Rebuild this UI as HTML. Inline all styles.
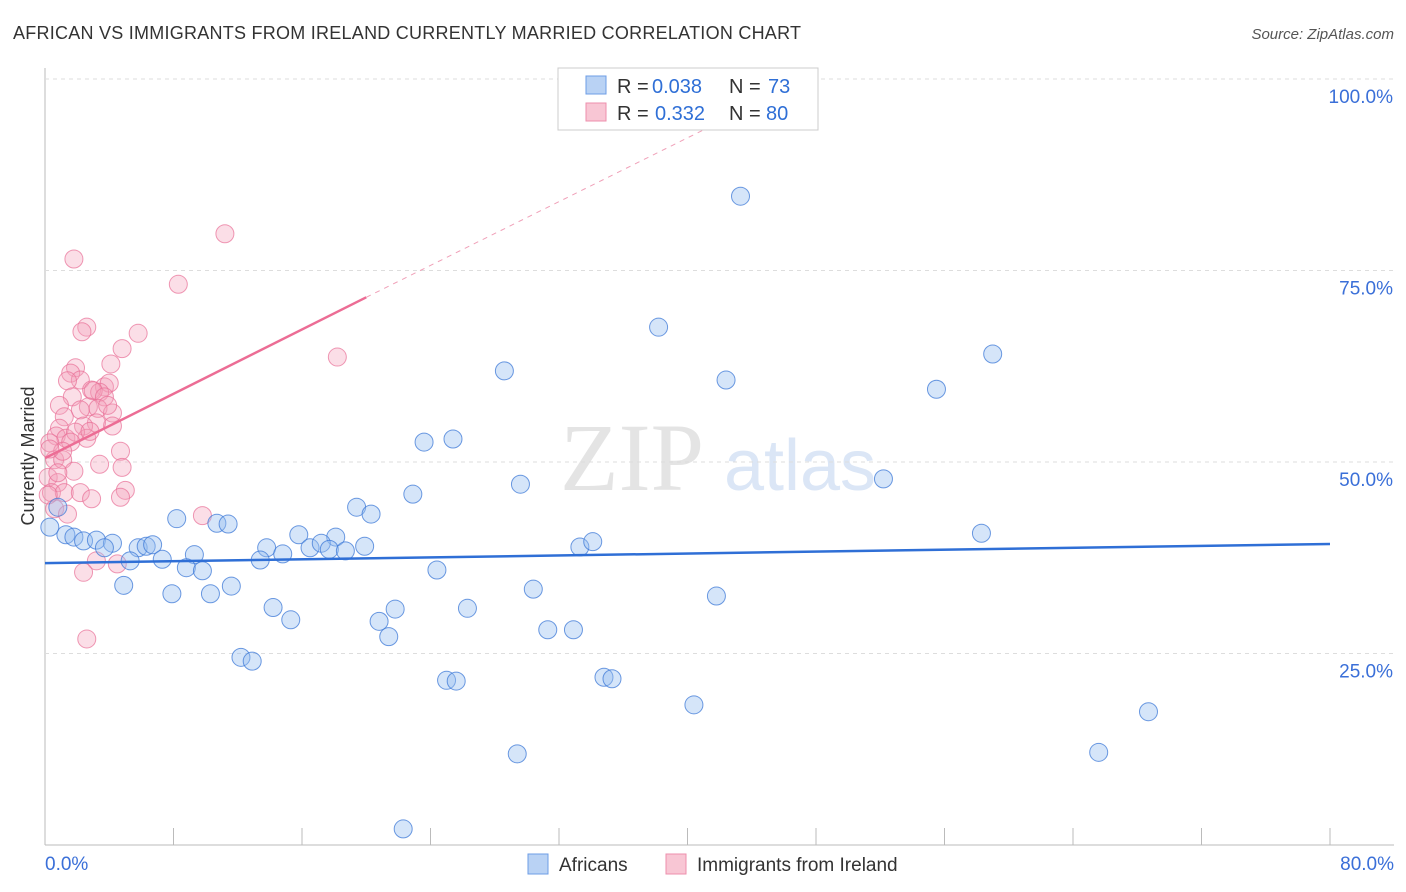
<!DOCTYPE html>
<html><head><meta charset="utf-8"><style>
body{margin:0;background:#fff;font-family:"Liberation Sans",sans-serif;}
svg{display:block}
</style></head><body>
<svg id="c" width="1406" height="892">
<text x="13" y="39" font-size="18" fill="#333" textLength="788">AFRICAN VS IMMIGRANTS FROM IRELAND CURRENTLY MARRIED CORRELATION CHART</text>
<text x="1394" y="39" font-size="15" fill="#555" text-anchor="end" font-style="italic">Source: ZipAtlas.com</text>
<text x="34" y="456" font-size="18" fill="#333" text-anchor="middle" transform="rotate(-90 34 456)">Currently Married</text>
<text x="632" y="490" font-size="96" fill="#e4e4e4" font-family="Liberation Serif,serif" text-anchor="middle">ZIP</text>
<text x="800" y="490" font-size="72" fill="#dbe6f6" text-anchor="middle">atlas</text>
<g id="grid"></g>
<g id="pts"></g>
<g id="lines"></g>
<rect x="558" y="68" width="260" height="62" fill="#fff" stroke="#ccc"/>
<rect x="586" y="76" width="20" height="18" fill="#b9d2f4" stroke="#6d9de6"/>
<rect x="586" y="103" width="20" height="18" fill="#f8c6d4" stroke="#ee8fac"/>
<g font-size="20" fill="#333">
<text x="617" y="93">R =</text><text x="652" y="93" fill="#2f6fd6">0.038</text><text x="729" y="93">N =</text><text x="768" y="93" fill="#2f6fd6">73</text></g>
<g font-size="20" fill="#333">
<text x="617" y="120">R =</text><text x="655" y="120" fill="#2f6fd6">0.332</text><text x="729" y="120">N =</text><text x="766" y="120" fill="#2f6fd6">80</text></g>
<rect x="528" y="854" width="20" height="20" fill="#b9d2f4" stroke="#6d9de6"/>
<text x="559" y="871" font-size="19" fill="#333">Africans</text>
<rect x="666" y="854" width="20" height="20" fill="#f8c6d4" stroke="#ee8fac"/>
<text x="697" y="871" font-size="19" fill="#333">Immigrants from Ireland</text>
<text x="45" y="870" font-size="19" fill="#3a6fd8">0.0%</text>
<text x="1394" y="870" font-size="19" fill="#3a6fd8" text-anchor="end">80.0%</text>
</svg>
<script>
const yTicks=[25,50,75,100];
const yTickLabels=["25.0%","50.0%","75.0%","100.0%"];
const xTicks=[0,8,16,24,32,40,48,56,64,72,80];
const africansX=[43.3,38.2,59.0,28.6,42.4,55.5,25.4,23.6,52.2,29.6,22.9,19.4,20.3,8.2,10.7,11.4,58.3,15.8,18.1,1.3,1.8,2.4,3.2,4.2,3.7,5.8,6.3,6.7,16.5,17.2,17.7,18.7,19.9,13.8,14.8,33.3,34.1,9.3,7.3,5.3,13.4,8.8,9.8,24.4,4.9,11.6,30.4,7.9,10.3,41.8,26.3,21.8,14.2,31.3,20.8,15.3,32.9,21.4,12.2,12.9,34.8,35.3,25.0,25.6,40.4,68.7,65.6,29.4,22.3,0.8,0.3];
const africansY=[84.7,67.6,64.1,61.9,60.7,59.5,53.0,52.6,47.8,47.1,45.8,44.1,43.2,42.6,42.0,41.9,40.7,40.5,40.2,40.5,40.2,39.7,39.8,39.4,38.8,38.8,39.0,39.2,38.8,39.4,38.6,38.4,39.0,38.8,38.0,38.9,39.6,37.9,37.3,37.1,37.2,36.2,35.8,35.9,33.9,33.8,33.4,32.8,32.8,32.5,30.9,30.8,31.0,28.1,29.2,29.4,28.1,27.2,24.5,24.0,21.9,21.7,21.5,21.4,18.3,17.4,12.1,11.9,2.1,44.1,41.5];
const irelandX=[11.2,1.8,8.3,5.8,2.6,2.3,18.2,4.8,4.1,1.9,1.6,2.2,1.4,3.7,4.0,2.9,3.4,1.7,0.9,3.0,3.7,2.7,2.2,1.2,3.3,4.2,4.2,3.2,2.4,0.9,0.7,1.3,0.3,2.6,4.7,0.6,1.1,3.4,1.8,4.8,0.2,0.8,0.4,1.2,2.2,2.9,5.0,4.7,0.6,1.4,9.8,3.2,4.5,2.4,2.6,0.2,0.8,3.9,1.9,1.6,2.8,1.1,0.3];
const irelandY=[79.8,76.5,73.2,66.8,67.6,67.0,63.7,64.8,62.8,62.3,61.6,60.7,60.6,59.8,60.3,59.4,59.1,58.5,57.4,59.3,58.5,57.2,56.8,55.9,57.0,56.4,54.7,55.1,54.7,54.4,53.4,53.1,52.5,53.1,51.4,50.3,50.3,49.7,48.8,49.3,48.0,47.3,46.0,46.0,46.0,45.2,46.3,45.4,43.9,43.2,43.0,37.1,36.7,35.6,26.9,45.7,48.6,57.4,53.9,52.6,54.0,51.4,51.7];
const africansTrend=[0,36.8,80,39.3];
const irelandTrendSolid=[0,50.5,20,71.5];
const irelandTrendDashEnd=[44.5,97];
const X0=45,X1=1330,Y0=845,Y100=79;
const sx=v=>X0+v/80*(X1-X0);
const sy=v=>Y0-v/100*(Y0-Y100);
const NS="http://www.w3.org/2000/svg";
function mk(tag,attrs,parent){const e=document.createElementNS(NS,tag);for(const k in attrs)e.setAttribute(k,attrs[k]);document.getElementById(parent).appendChild(e);return e;}
let e=mk('line',{x1:X0,y1:68,x2:X0,y2:Y0,stroke:'#bbb'},'grid');


e=mk('line',{x1:X0,y1:Y0,x2:1394,y2:Y0,stroke:'#bbb'},'grid');


yTicks.forEach((t,i)=>{
 let g=mk('line',{x1:X0,y1:sy(t),x2:1394,y2:sy(t),stroke:'#ddd','stroke-dasharray':'4 4'},'grid');
 
 
 let l=mk('text',{x:1393,y:sy(t)+24,'font-size':19,fill:'#3a6fd8','text-anchor':'end'},'grid');
 l.textContent=yTickLabels[i];
 
 
});
xTicks.forEach(t=>{
 let g=mk('line',{x1:sx(t),y1:828,x2:sx(t),y2:Y0,stroke:'#bbb'},'grid');
 
 
});
irelandX.forEach((v,i)=>{
 let c=mk('circle',{cx:sx(v),cy:sy(irelandY[i]),r:9,fill:'rgba(244,160,186,0.35)',stroke:'rgba(232,110,150,0.7)','stroke-width':1},'pts');
 
 
});
africansX.forEach((v,i)=>{
 let c=mk('circle',{cx:sx(v),cy:sy(africansY[i]),r:9,fill:'rgba(150,190,240,0.4)',stroke:'rgba(60,120,215,0.75)','stroke-width':1},'pts');
 
 
});
e=mk('line',{x1:sx(africansTrend[0]),y1:sy(africansTrend[1]),x2:sx(africansTrend[2]),y2:sy(africansTrend[3]),stroke:'#2f6fd6','stroke-width':2.5},'lines');


e=mk('line',{x1:sx(irelandTrendSolid[0]),y1:sy(irelandTrendSolid[1]),x2:sx(irelandTrendSolid[2]),y2:sy(irelandTrendSolid[3]),stroke:'#ec6d95','stroke-width':2.5},'lines');


e=mk('line',{x1:sx(irelandTrendSolid[2]),y1:sy(irelandTrendSolid[3]),x2:sx(irelandTrendDashEnd[0]),y2:sy(irelandTrendDashEnd[1]),stroke:'#f0a0b8','stroke-width':1,'stroke-dasharray':'5 5'},'lines');


</script>
</body></html>
